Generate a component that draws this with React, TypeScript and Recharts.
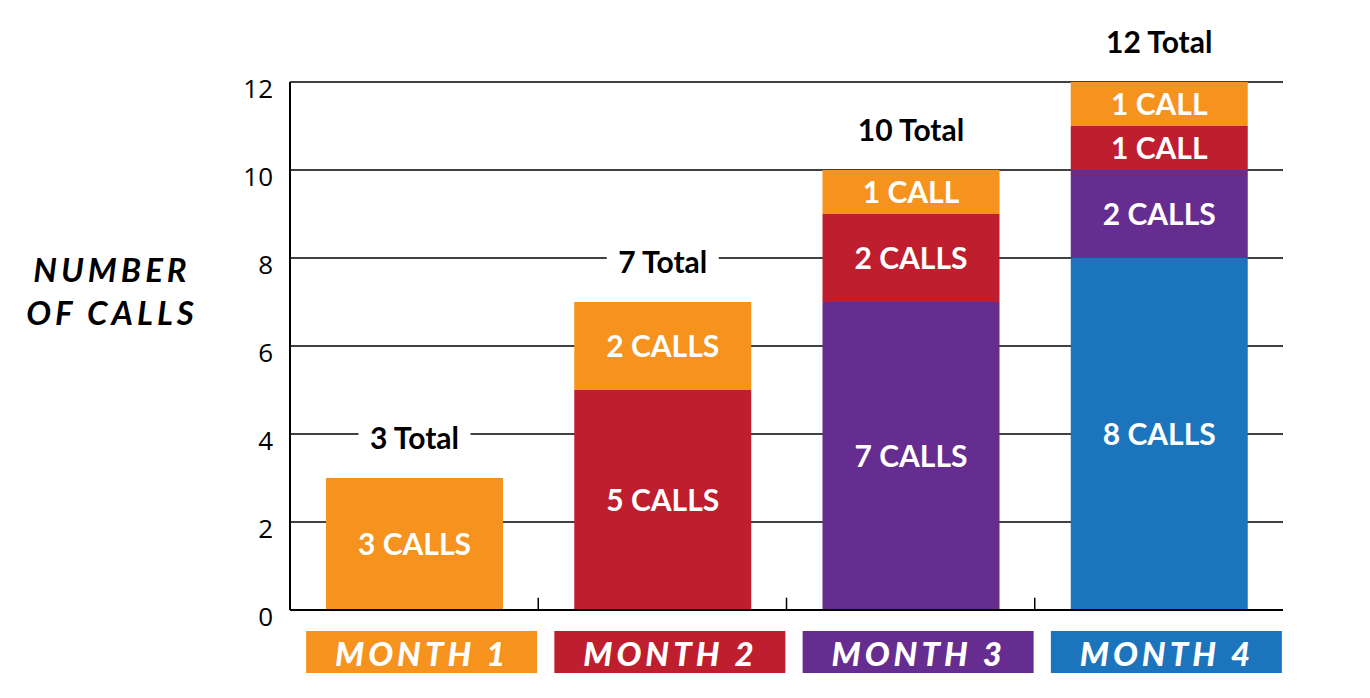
import { BarChart, Bar, XAxis, YAxis, CartesianGrid, LabelList, Label, ReferenceLine } from "recharts";

const months = ["MONTH 1", "MONTH 2", "MONTH 3", "MONTH 4"];
const blueCalls = [null, null, null, 8];
const purpleCalls = [null, null, 7, 2];
const redCalls = [null, 5, 2, 1];
const orangeCalls = [3, 2, 1, 1];
const totals = [3, 7, 10, 12];
const yTicks = [0, 2, 4, 6, 8, 10, 12];
// months that get a small divider tick at the end of their slot
const dividerAfter = ["MONTH 1", "MONTH 2", "MONTH 3"];

const ORANGE = "#F6921E";
const RED = "#BE1E2D";
const PURPLE = "#662D91";
const BLUE = "#1C75BC";
const monthColors = [ORANGE, RED, PURPLE, BLUE];

const data = months.map((m, i) => ({
  month: m,
  blue: blueCalls[i],
  purple: purpleCalls[i],
  red: redCalls[i],
  orange: orangeCalls[i],
  total: totals[i],
}));

const callsLabel = (v: any) => (v == null ? "" : `${v} ${v === 1 ? "CALL" : "CALLS"}`);

function MonthTick(props: any) {
  const { x, y, payload, index } = props;
  const cx = x + 8;
  return (
    <g>
      <rect x={cx - 116} y={y + 21} width={231} height={42} fill={monthColors[index]} />
      <text
        x={cx}
        y={y + 43}
        textAnchor="middle"
        dominantBaseline="central"
        fill="#fff"
        fontFamily="Lato"
        fontWeight={900}
        fontStyle="italic"
        fontSize={33}
        letterSpacing={4}
      >
        {payload.value}
      </text>
    </g>
  );
}

function NumTick(props: any) {
  const { x, y, payload } = props;
  return (
    <text x={x} y={y + 6} textAnchor="end" dominantBaseline="central" fill="#000" fontFamily="Open Sans" fontSize={26}>
      {payload.value}
    </text>
  );
}

function TotalLabel(props: any) {
  const { x, y, width, value } = props;
  const cx = x + width / 2;
  const cy = y - 41;
  return (
    <g>
      <rect x={cx - 56} y={cy - 18} width={112} height={36} fill="#fff" />
      <text x={cx} y={cy} textAnchor="middle" dominantBaseline="central" fill="#000" fontFamily="Lato" fontWeight={700} fontSize={30}>
        {`${value} Total`}
      </text>
    </g>
  );
}

function AxisTitle(props: any) {
  const { viewBox } = props;
  const cx = viewBox.x + 112;
  const cy = viewBox.y + viewBox.height / 2;
  const style = { fontFamily: "Lato", fontWeight: 700, fontStyle: "italic", fontSize: 33, letterSpacing: 4 } as any;
  return (
    <g>
      <text x={cx} y={cy - 77} textAnchor="middle" dominantBaseline="central" fill="#000" style={style}>NUMBER</text>
      <text x={cx} y={cy - 34} textAnchor="middle" dominantBaseline="central" fill="#000" style={style}>OF CALLS</text>
    </g>
  );
}

const inLabel = { fill: "#fff", fontFamily: "Lato", fontWeight: 700, fontSize: 30 } as any;

export default function App() {
  return (
    <div style={{ position: "absolute", left: 0, top: 0, background: "#fff" }}>
      <BarChart width={1370} height={698} data={data} margin={{ top: 82, right: 87, left: 0, bottom: 18 }}>
        <CartesianGrid vertical={false} stroke="#000" strokeWidth={1.5} />
        <XAxis
          dataKey="month"
          height={70}
          stroke="#000"
          strokeWidth={2}
          tickLine={false}
          tickSize={0}
          tickMargin={0}
          tick={<MonthTick />}
          interval={0}
        />
        <YAxis
          width={290}
          domain={[0, 12]}
          ticks={yTicks}
          stroke="#000"
          strokeWidth={2}
          tickLine={false}
          tickSize={0}
          tickMargin={17}
          tick={<NumTick />}
        >
          <Label content={<AxisTitle />} />
        </YAxis>
        <YAxis yAxisId="r" orientation="right" width={0} tick={false} tickLine={false} stroke="#000" strokeWidth={2} domain={[0, 12]} />
        {dividerAfter.map((m) => (
          <ReferenceLine
            key={m}
            position="end"
            segment={[{ x: m, y: 0 }, { x: m, y: 0.28 }]}
            stroke="#000"
            strokeWidth={1.5}
          />
        ))}
        <Bar dataKey="blue" stackId="a" fill={BLUE} barSize={177} isAnimationActive={false}>
          <LabelList dataKey="blue" position="center" formatter={callsLabel} style={inLabel} />
        </Bar>
        <Bar dataKey="purple" stackId="a" fill={PURPLE} barSize={177} isAnimationActive={false}>
          <LabelList dataKey="purple" position="center" formatter={callsLabel} style={inLabel} />
        </Bar>
        <Bar dataKey="red" stackId="a" fill={RED} barSize={177} isAnimationActive={false}>
          <LabelList dataKey="red" position="center" formatter={callsLabel} style={inLabel} />
        </Bar>
        <Bar dataKey="orange" stackId="a" fill={ORANGE} barSize={177} isAnimationActive={false}>
          <LabelList dataKey="orange" position="center" formatter={callsLabel} style={inLabel} />
          <LabelList dataKey="total" content={<TotalLabel />} />
        </Bar>
      </BarChart>
    </div>
  );
}
